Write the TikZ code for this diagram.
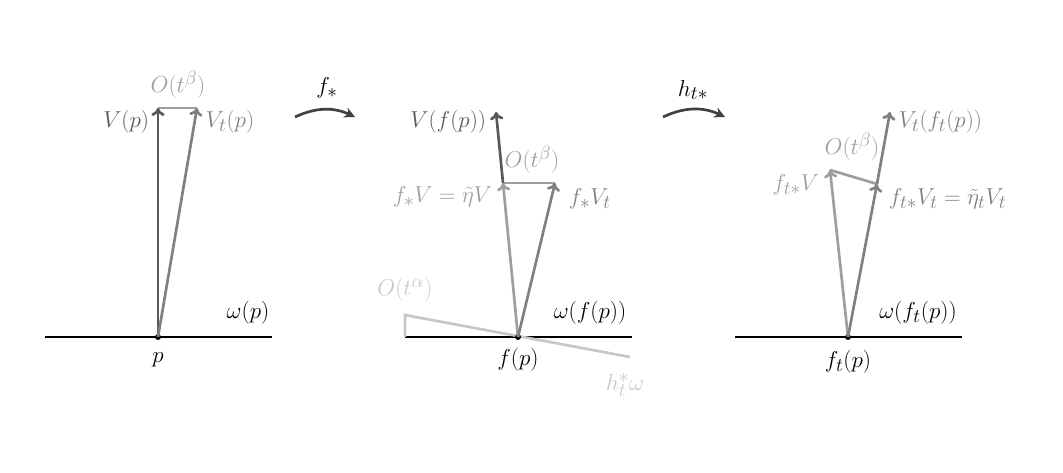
\documentclass[tikz,border=0pt]{standalone}
\usetikzlibrary{arrows.meta}
\begin{document}
\begin{tikzpicture}[x=0.75pt,y=-0.75pt,
  every node/.style={font=\fontsize{19}{22}\selectfont,inner sep=0.5pt},
  base/.style={line width=2pt,black},
  vec/.style={line width=2pt,-{To[length=6pt,width=10pt]}},
  dk/.style={color=black!65},
  md/.style={color=black!50},
  lt/.style={color=black!38},
  vlt/.style={color=black!22},
  maparrow/.style={line width=2pt,black!75,-{Stealth[length=8pt,width=8pt]}}]
\useasboundingbox (0,0) rectangle (1063,473);
% panel 1
\coordinate (b1l) at (45,337); \coordinate (b1r) at (272,337);
\coordinate (p1) at (158,337);
\coordinate (v1) at (158,108); \coordinate (vt1) at (197,108);
\draw[base] (b1l) -- (b1r);
\fill (p1) circle (3);
\draw[lt,line width=2pt] (v1) -- (vt1);
\draw[vec,dk] (p1) -- (v1);
\draw[vec,md] (p1) -- (vt1);
\node[lt] (ob1) at (178,85) {$O(t^{\beta})$};
\node[dk,anchor=east] (lv1) at (150,122) {$V(p)$};
\node[md,anchor=west] (lvt1) at (205,122) {$V_t(p)$};
\node (w1) at (248,313) {$\omega(p)$};
\node (lp1) at (158,360) {$p$};
% arrow f_*
\coordinate (a1s) at (295,117); \coordinate (a1e) at (355,117);
\draw[maparrow] (a1s) to[bend left=25] (a1e);
\node (fs) at (327,88) {$f_*$};
% panel 2
\coordinate (b2l) at (405,337); \coordinate (b2r) at (632,337);
\coordinate (p2) at (518,337);
\coordinate (fv) at (503,183); \coordinate (vf) at (496,112);
\coordinate (fvt) at (555,183);
\coordinate (hl) at (405,315); \coordinate (hr) at (630,357);
\coordinate (hb) at (405,337);
\draw[base] (b2l) -- (b2r);
\draw[vlt,line width=2pt] (hb) -- (hl) -- (hr);
\fill (p2) circle (3);
\draw[lt,line width=2pt] (fv) -- (fvt);
\draw[vec,dk] (fv) -- (vf);
\draw[vec,lt] (p2) -- (fv);
\draw[vec,md] (p2) -- (fvt);
\node[lt] (ob2) at (532,160) {$O(t^{\beta})$};
\node[lt,anchor=east] (lfv) at (493,197) {$f_*V=\tilde\eta V$};
\node[md,anchor=west] (lfvt) at (568,199) {$f_*V_t$};
\node[dk,anchor=east] (lvf) at (487,122) {$V(f(p))$};
\node[vlt] (oa) at (405,290) {$O(t^{\alpha})$};
\node (w2) at (590,313) {$\omega(f(p))$};
\node (lp2) at (518,360) {$f(p)$};
\node[vlt] (hw) at (625,385) {$h_t^*\omega$};
% arrow h_t*
\coordinate (a2s) at (663,117); \coordinate (a2e) at (725,117);
\draw[maparrow] (a2s) to[bend left=25] (a2e);
\node (hs) at (693,90) {$h_{t*}$};
% panel 3
\coordinate (b3l) at (735,337); \coordinate (b3r) at (962,337);
\coordinate (p3) at (848,337);
\coordinate (ftv) at (830,170); \coordinate (ftvt) at (877,184);
\coordinate (vtf) at (890,112);
\draw[base] (b3l) -- (b3r);
\fill (p3) circle (3);
\draw[lt,line width=2pt] (ftv) -- (ftvt);
\draw[vec,md] (ftvt) -- (vtf);
\draw[vec,lt] (p3) -- (ftv);
\draw[vec,md] (p3) -- (ftvt);
\node[md,anchor=west] (lvtf) at (898,122) {$V_t(f_t(p))$};
\node[lt] (ob3) at (852,147) {$O(t^{\beta})$};
\node[lt,anchor=east] (lftv) at (820,185) {$f_{t*}V$};
\node[md,anchor=west] (lftvt) at (888,199) {$f_{t*}V_t=\tilde\eta_t V_t$};
\node (w3) at (918,313) {$\omega(f_t(p))$};
\node (lp3) at (848,362) {$f_t(p)$};
\end{tikzpicture}
\end{document}
